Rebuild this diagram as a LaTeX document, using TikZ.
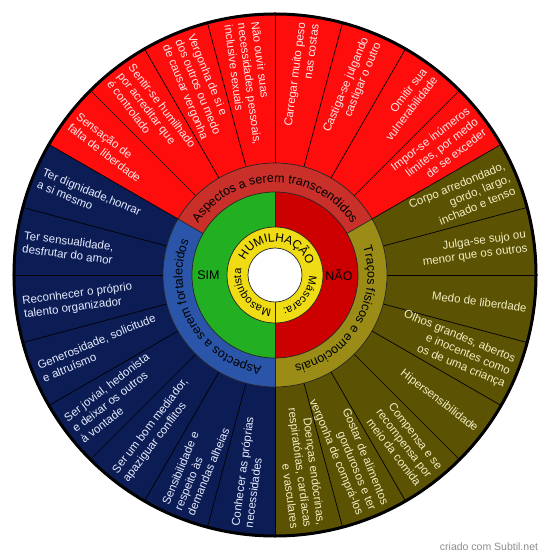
\documentclass[tikz,border=0pt]{standalone}
\usepackage{fontspec}
\setmainfont{Liberation Sans}
\usetikzlibrary{decorations.text}
\definecolor{segred}{HTML}{FF0D0D}
\definecolor{segolive}{HTML}{5C5204}
\definecolor{segnavy}{HTML}{0C1D55}
\definecolor{midred}{HTML}{C9302A}
\definecolor{midolive}{HTML}{9A8C16}
\definecolor{midblue}{HTML}{2A55A8}
\definecolor{simgreen}{HTML}{22B022}
\definecolor{naored}{HTML}{CC0000}
\definecolor{ringyellow}{HTML}{F0DC14}
\definecolor{txtred}{HTML}{FFE8E8}
\definecolor{txtolive}{HTML}{F2EEC2}
\definecolor{txtnavy}{HTML}{E6ECFF}
\definecolor{credit}{HTML}{8C8C8C}
\newcommand{\segfont}{\fontsize{11.5}{13.5}\selectfont}
\newcommand{\ringfont}{\fontsize{12.5}{14}\selectfont}
\newcommand{\innerfont}{\fontsize{11}{13}\selectfont}
\newcommand{\humfont}{\fontsize{12}{14}\selectfont}
\begin{document}
\begin{tikzpicture}[
  segR/.style={font=\segfont, inner sep=0pt, anchor=east, align=right},
  segL/.style={font=\segfont, inner sep=0pt, anchor=west, align=left},
  sepline/.style={black, line width=0.7pt},
  ringline/.style={black!85, line width=0.7pt},
]
\useasboundingbox (-275pt,-284pt) rectangle (275pt,275pt);
% outer sectors
\fill[segred] (0,0) -- (30:262pt) arc[start angle=30,end angle=150,radius=262pt] -- cycle;
\fill[segolive] (0,0) -- (-90:262pt) arc[start angle=-90,end angle=30,radius=262pt] -- cycle;
\fill[segnavy] (0,0) -- (150:262pt) arc[start angle=150,end angle=270,radius=262pt] -- cycle;
\foreach \a in {-90,-75,...,255} \draw[sepline] (\a:112pt) -- (\a:262pt);
% middle ring
\fill[midred] (0,0) -- (30:112pt) arc[start angle=30,end angle=150,radius=112pt] -- cycle;
\fill[midolive] (0,0) -- (-90:112pt) arc[start angle=-90,end angle=30,radius=112pt] -- cycle;
\fill[midblue] (0,0) -- (150:112pt) arc[start angle=150,end angle=270,radius=112pt] -- cycle;
\foreach \a in {30,150,270} \draw[ringline] (\a:83pt) -- (\a:112pt);
\draw[ringline] (0,0) circle[radius=112pt];
% inner halves
\fill[simgreen] (0,0) -- (90:83pt) arc[start angle=90,end angle=270,radius=83pt] -- cycle;
\fill[naored] (0,0) -- (-90:83pt) arc[start angle=-90,end angle=90,radius=83pt] -- cycle;
\draw[ringline] (90:48pt) -- (90:83pt);
\draw[ringline] (-90:27pt) -- (-90:83pt);
\draw[ringline] (0,0) circle[radius=83pt];
\fill[ringyellow] (0,0) circle[radius=48pt];
\draw[ringline] (-90:27pt) -- (-90:48pt);
\draw[ringline] (0,0) circle[radius=48pt];
\fill[white] (0,0) circle[radius=27pt];
\draw[ringline] (0,0) circle[radius=27pt];
% outer border
\draw[black, line width=3pt] (0,0) circle[radius=261pt];

% red segments
\node[segL, text=txtred, rotate=-37.5] (r1) at (142.5:254pt) {Sensação de\\falta de liberdade};
\node[segL, text=txtred, rotate=-52.5] (r2) at (127.5:254pt) {Sentir-se humilhado\\por acreditar que\\é controlado};
\node[segL, text=txtred, rotate=-67.5] (r3) at (112.5:254pt) {Vergonha de si e\\dos outros ou medo\\de causar vergonha};
\node[segL, text=txtred, rotate=-82.5] (r4) at (97.5:254pt) {Não ouvir suas\\necessidades pessoais,\\inclusive sexuais};
\node[segR, text=txtred, rotate=82.5] (r5) at (82.5:254pt) {Carregar muito peso\\nas costas};
\node[segR, text=txtred, rotate=67.5] (r6) at (67.5:254pt) {Castiga-se julgando\\castigar o outro};
\node[segR, text=txtred, rotate=52.5] (r7) at (52.5:254pt) {Omitir sua\\vulnerabilidade};
\node[segR, text=txtred, rotate=37.5] (r8) at (37.5:254pt) {Impor-se inúmeros\\limites, por medo\\de se exceder};
% olive segments
\node[segR, text=txtolive, rotate=22.5] (o1) at (22.5:254pt) {Corpo arredondado,\\gordo, largo,\\inchado e tenso};
\node[segR, text=txtolive, rotate=7.5] (o2) at (7.5:254pt) {Julga-se sujo ou\\menor que os outros};
\node[segR, text=txtolive, rotate=-7.5] (o3) at (-7.5:254pt) {Medo de liberdade};
\node[segR, text=txtolive, rotate=-22.5] (o4) at (-22.5:254pt) {Olhos grandes, abertos\\e inocentes como\\os de uma criança};
\node[segR, text=txtolive, rotate=-37.5] (o5) at (-37.5:254pt) {Hipersensibilidade};
\node[segR, text=txtolive, rotate=-52.5] (o6) at (-52.5:254pt) {Compensa e se\\recompensa por\\meio da comida};
\node[segR, text=txtolive, rotate=-67.5] (o7) at (-67.5:254pt) {Gostar de alimentos\\gordurosos e ter\\vergonha de comprá-los};
\node[segR, text=txtolive, rotate=-82.5] (o8) at (-82.5:254pt) {Doenças endócrinas,\\respiratórias, cardíacas\\e vasculares};
% navy segments
\node[segL, text=txtnavy, rotate=-22.5] (n1) at (157.5:254pt) {Ter dignidade,honrar\\a si mesmo};
\node[segL, text=txtnavy, rotate=-7.5] (n2) at (172.5:254pt) {Ter sensualidade,\\desfrutar do amor};
\node[segL, text=txtnavy, rotate=7.5] (n3) at (187.5:254pt) {Reconhecer o próprio\\talento organizador};
\node[segL, text=txtnavy, rotate=22.5] (n4) at (202.5:254pt) {Generosidade, solicitude\\e altruísmo};
\node[segL, text=txtnavy, rotate=37.5] (n5) at (217.5:254pt) {Ser jovial, hedonista\\e deixar os outros\\à vontade};
\node[segL, text=txtnavy, rotate=52.5] (n6) at (232.5:254pt) {Ser um bom mediador,\\apaziguar conflitos};
\node[segL, text=txtnavy, rotate=67.5] (n7) at (247.5:254pt) {Sensibilidade e\\respeito às\\demandas alheias};
\node[segL, text=txtnavy, rotate=82.5] (n8) at (262.5:254pt) {Conhecer as próprias\\necessidades};

% ring labels
\path[decorate, decoration={text along path, text={|\ringfont|Aspectos a serem transcendidos}, text align=center}]
  (150:92.5pt) arc[start angle=150, end angle=30, radius=92.5pt];
\path[decorate, decoration={text along path, text={|\ringfont|Traços físicos e emocionais}, text align=center}]
  (30:92.5pt) arc[start angle=30, end angle=-90, radius=92.5pt];
\path[decorate, decoration={text along path, text={|\ringfont|Aspectos a serem fortalecidos}, text align=center}]
  (270:92.5pt) arc[start angle=270, end angle=150, radius=92.5pt];
% inner ring
\path[decorate, decoration={text along path, text={|\humfont|HUMILHAÇÃO}, text align=fit to path}]
  (154:33.5pt) arc[start angle=154, end angle=21, radius=33.5pt];
\path[decorate, decoration={text along path, text={|\innerfont|Máscara:}, text align=center}]
  (-3:34pt) arc[start angle=-3, end angle=-75, radius=34pt];
\path[decorate, decoration={text along path, text={|\innerfont|Masoquista}, text align=center}]
  (-98:34pt) arc[start angle=-98, end angle=-188, radius=34pt];
\node[font=\fontsize{12.5}{14}\selectfont] (sim) at (-66.5pt,0) {SIM};
\node[font=\fontsize{12.5}{14}\selectfont] (nao) at (64pt,0) {NÃO};
% credit
\node[font=\fontsize{10.5}{12}\selectfont, text=credit] (credit) at (214pt,-272pt) {criado com Subtil.net};
\end{tikzpicture}
\end{document}
